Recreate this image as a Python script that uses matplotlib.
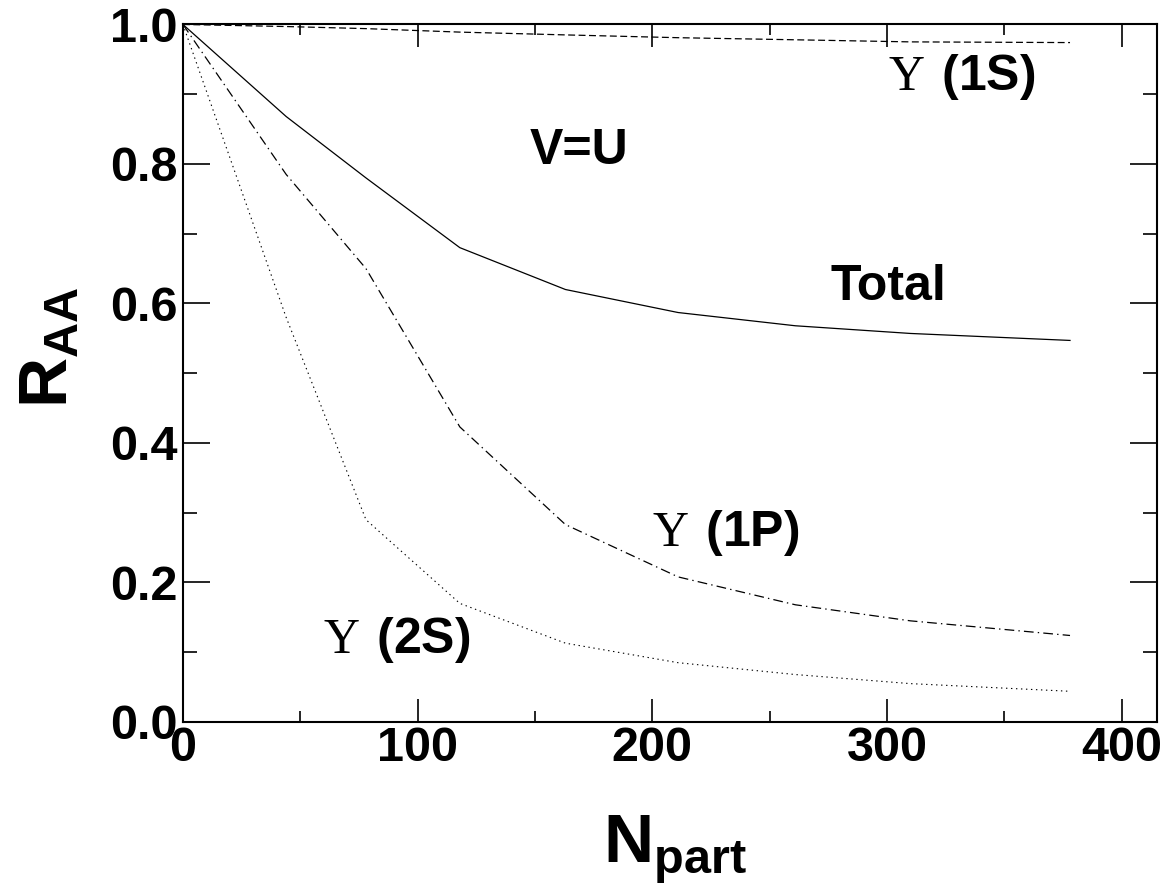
import matplotlib
matplotlib.use("Agg")
import matplotlib.pyplot as plt
from matplotlib.ticker import MultipleLocator

plt.rcParams['font.family'] = ['Liberation Sans', 'DejaVu Sans']
plt.rcParams['font.weight'] = 'bold'
plt.rcParams['mathtext.fontset'] = 'custom'
plt.rcParams['mathtext.rm'] = 'Liberation Serif:normal'
plt.rcParams['mathtext.bf'] = 'Liberation Sans:bold'
plt.rcParams['lines.scale_dashes'] = False

# N_part values and suppression factors
npart = [0, 44, 78, 118, 163, 211, 261, 310, 378]
r_total = [1.0, 0.868, 0.78, 0.680, 0.620, 0.587, 0.568, 0.557, 0.547]
r_1s = [1.0, 0.997, 0.994, 0.989, 0.985, 0.981, 0.978, 0.975, 0.974]
r_1p = [1.0, 0.785, 0.650, 0.423, 0.283, 0.208, 0.168, 0.145, 0.124]
r_2s = [1.0, 0.580, 0.290, 0.170, 0.113, 0.085, 0.068, 0.055, 0.044]

fig = plt.figure(figsize=(11.65, 8.92), dpi=100)
ax = fig.add_axes([0.157, 0.1906, 0.836, 0.7820])

ax.plot(npart, r_total, color='black', lw=0.9)
ax.plot(npart, r_1s, color='black', lw=0.9, dashes=(5, 2.5))
ax.plot(npart, r_1p, color='black', lw=0.9, dashes=(7, 3, 1, 3))
ax.plot(npart, r_2s, color='black', lw=0.8, dashes=(1, 2.6))

ax.set_xlim(0, 415)
ax.set_ylim(0, 1.0)

ax.xaxis.set_major_locator(MultipleLocator(100))
ax.xaxis.set_minor_locator(MultipleLocator(50))
ax.yaxis.set_major_locator(MultipleLocator(0.2))
ax.yaxis.set_minor_locator(MultipleLocator(0.1))
ax.yaxis.set_major_formatter(matplotlib.ticker.FormatStrFormatter('%.1f'))

ax.tick_params(axis='both', which='both', direction='in', top=True, right=True,
               width=1.2, labelsize=35)
ax.tick_params(axis='x', which='major', length=16.5, pad=3)
ax.tick_params(axis='x', which='minor', length=8)
ax.tick_params(axis='y', which='major', length=19.5, pad=4)
ax.tick_params(axis='y', which='minor', length=10)
for s in ax.spines.values():
    s.set_linewidth(1.5)

ax.text(169, 0.818, 'V=U', fontsize=36, ha='center', va='center')
ax.text(300.5, 0.623, 'Total', fontsize=36, ha='center', va='center')
ax.text(300.6, 0.924, r'$\mathrm{\Upsilon}\ \mathbf{(1S)}$', fontsize=36, ha='left', va='center')
ax.text(200, 0.271, r'$\mathrm{\Upsilon}\ \mathbf{(1P)}$', fontsize=36, ha='left', va='center')
ax.text(59.7, 0.118, r'$\mathrm{\Upsilon}\ \mathbf{(2S)}$', fontsize=36, ha='left', va='center')

fig.text(50 / 1165, 1 - 347 / 892, r'$\mathbf{R}_{\mathbf{AA}}$', fontsize=50,
         rotation=90, ha='center', va='center')
fig.text(675 / 1165, 1 - 863 / 892, r'$\mathbf{N}_{\mathbf{part}}$', fontsize=50,
         ha='center', va='baseline')

fig.savefig('out.png', dpi=100)
